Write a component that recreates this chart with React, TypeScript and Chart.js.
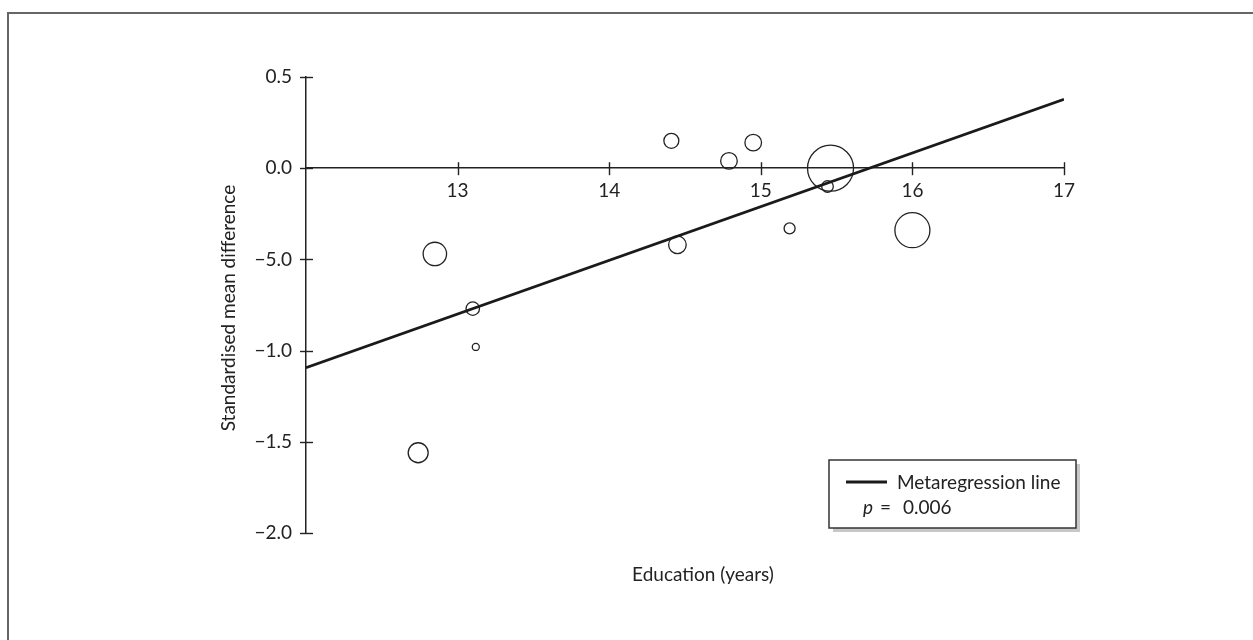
import React, { useEffect, useRef } from 'react';
import { Chart, registerables } from 'chart.js';

Chart.register(...registerables);

// ---- data ----
const educationYears = [12.74, 12.85, 13.10, 13.12, 14.41, 14.45, 14.79, 14.95, 15.19, 15.44, 15.46, 16.00];
const smdValues = [-1.56, -0.47, -0.77, -0.98, 0.15, -0.42, 0.04, 0.14, -0.33, -0.10, 0.0, -0.34];
const studyWeights = [10, 11.7, 6.7, 3.5, 7.5, 8.8, 8.3, 8.3, 5.5, 5.8, 23, 17.5];
const regressionX = [12, 17];
const regressionY = [-1.094, 0.378];
const xTickLabels = ['', '13', '14', '15', '16', '17'];
const yTickLabels = ['\u22122.0', '\u22121.5', '\u22121.0', '\u22125.0', '0.0', '0.5'];
const xTitle = 'Education (years)';
const yTitle = 'Standardised mean difference';
const legendLabel = 'Metaregression line';
const pSymbol = 'p';
const pEquals = '=';
const pValue = '0.006';

const FONT = 'Lato, "Open Sans", sans-serif';
const INK = '#222';
const FS = 19;

const decorPlugin = {
  id: 'decor',
  beforeDraw(chart: any) {
    const ctx = chart.ctx;
    ctx.save();
    ctx.fillStyle = '#fff';
    ctx.fillRect(0, 0, chart.width, chart.height);
    ctx.strokeStyle = '#666';
    ctx.lineWidth = 2;
    ctx.beginPath();
    ctx.moveTo(8, chart.height + 2);
    ctx.lineTo(8, 13);
    ctx.lineTo(chart.width + 2, 13);
    ctx.stroke();
    ctx.restore();
  },
  afterDraw(chart: any) {
    const { ctx, chartArea, scales } = chart;
    const xs = scales.x;
    const ys = scales.y;
    ctx.save();
    // crossing tick marks
    ctx.strokeStyle = INK;
    ctx.lineWidth = 1.4;
    const y0 = ys.getPixelForValue(0);
    xs.ticks.forEach((t: any, i: number) => {
      if (i === 0) return;
      const px = Math.round(xs.getPixelForValue(t.value)) + 0.5;
      ctx.beginPath();
      ctx.moveTo(px, y0 - 6);
      ctx.lineTo(px, y0 + 7);
      ctx.stroke();
    });
    const x0 = chartArea.left;
    ys.ticks.forEach((t: any) => {
      const py = Math.round(ys.getPixelForValue(t.value)) + 0.5;
      ctx.beginPath();
      ctx.moveTo(x0 - 6, py);
      ctx.lineTo(x0 + 7, py);
      ctx.stroke();
    });

    // axis titles
    ctx.fillStyle = INK;
    ctx.font = `${FS}px ${FONT}`;
    ctx.textAlign = 'center';
    ctx.textBaseline = 'middle';
    ctx.fillText(xTitle, chartArea.left + 397, 575);
    ctx.save();
    ctx.translate(229, (chartArea.top + chartArea.bottom) / 2 + 3);
    ctx.rotate(-Math.PI / 2);
    ctx.fillText(yTitle, 0, 0);
    ctx.restore();

    // legend box
    const bl = chartArea.left + 523;
    const bt = 460;
    const bw = 247;
    const bh = 68;
    ctx.fillStyle = '#c8c8c8';
    ctx.fillRect(bl + 4, bt + 4, bw, bh);
    ctx.fillStyle = '#fff';
    ctx.fillRect(bl, bt, bw, bh);
    ctx.strokeStyle = '#333';
    ctx.lineWidth = 1.5;
    ctx.strokeRect(bl, bt, bw, bh);
    ctx.strokeStyle = '#1a1a1a';
    ctx.lineWidth = 2.8;
    ctx.beginPath();
    ctx.moveTo(bl + 17, 482);
    ctx.lineTo(bl + 58, 482);
    ctx.stroke();
    ctx.fillStyle = INK;
    ctx.textAlign = 'left';
    ctx.font = `${FS}px ${FONT}`;
    ctx.fillText(legendLabel, bl + 68, 483);
    ctx.font = `italic ${FS}px ${FONT}`;
    ctx.fillText(pSymbol, bl + 34, 508);
    ctx.font = `${FS}px ${FONT}`;
    ctx.fillText(pEquals, bl + 51, 508);
    ctx.fillText(pValue, bl + 74, 508);
    ctx.restore();
  },
};

export default function App() {
  const ref = useRef<HTMLCanvasElement | null>(null);

  useEffect(() => {
    if (!ref.current) return;
    const chart = new Chart(ref.current, {
      type: 'bubble',
      data: {
        datasets: [
          {
            type: 'line' as any,
            label: legendLabel,
            data: regressionX.map((x, i) => ({ x, y: regressionY[i] })),
            borderColor: '#1a1a1a',
            borderWidth: 2.8,
            pointRadius: 0,
            fill: false,
            tension: 0,
          } as any,
          {
            label: 'Studies',
            data: educationYears.map((x, i) => ({ x, y: smdValues[i], r: studyWeights[i] })),
            backgroundColor: 'rgba(0,0,0,0)',
            borderColor: INK,
            borderWidth: 1.3,
            clip: false as any,
          },
        ],
      },
      options: {
        responsive: false,
        animation: false,
        devicePixelRatio: 1,
        layout: { padding: { left: 0, right: 189, top: 77, bottom: 107 } },
        plugins: {
          legend: { display: false },
          tooltip: { enabled: false },
        },
        events: [],
        scales: {
          x: {
            type: 'linear',
            position: { y: 0 } as any,
            min: 12,
            max: 17,
            ticks: {
              stepSize: 1,
              color: INK,
              font: { family: FONT, size: FS },
              padding: 5,
              maxRotation: 0,
              callback: (_v: any, i: number) => xTickLabels[i],
            },
            grid: { display: true, drawOnChartArea: false, drawTicks: true, tickLength: 6, color: 'rgba(0,0,0,0)' },
            border: { display: true, color: INK, width: 1.5 },
            afterFit: (s: any) => { s.height = 0; },
          },
          y: {
            type: 'linear',
            position: 'left',
            min: -2,
            max: 0.5,
            ticks: {
              stepSize: 0.5,
              color: INK,
              font: { family: FONT, size: FS },
              padding: 8,
              callback: (_v: any, i: number) => yTickLabels[i],
            },
            grid: { display: true, drawOnChartArea: false, drawTicks: true, tickLength: 6, color: 'rgba(0,0,0,0)' },
            border: { display: true, color: INK, width: 1.5 },
            afterFit: (s: any) => { s.width = 306; },
          },
        },
      },
      plugins: [decorPlugin],
    });
    return () => chart.destroy();
  }, []);

  return (
    <div style={{ position: 'absolute', left: 0, top: 0, width: 1253, height: 640 }}>
      <canvas ref={ref} width={1253} height={640} style={{ width: 1253, height: 640, display: 'block' }} />
    </div>
  );
}
